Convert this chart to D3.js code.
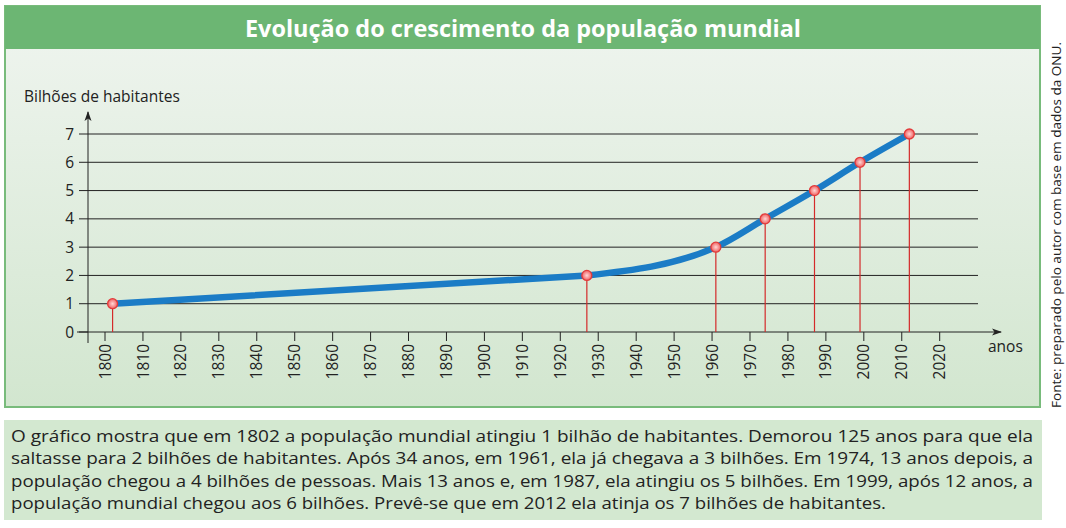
<!DOCTYPE html>
<html lang="pt">
<head>
<meta charset="utf-8">
<title>Evolução do crescimento da população mundial</title>
<script src="https://cdn.jsdelivr.net/npm/d3@7"></script>
<style>
body { margin: 0; background: #fff; }
svg { display: block; font-family: "Open Sans", "Noto Sans", sans-serif; }
</style>
</head>
<body>
<script>
// data
const years = [1802, 1927, 1961, 1974, 1987, 1999, 2012];
const billions = [1, 2, 3, 4, 5, 6, 7];
const yearTicks = d3.range(1800, 2021, 10);
const valueTicks = [0, 1, 2, 3, 4, 5, 6, 7];

const title = "Evolução do crescimento da população mundial";
const yLabel = "Bilhões de habitantes";
const xLabel = "anos";
const source = "Fonte: preparado pelo autor com base em dados da ONU.";
const textLines = [
  "O gráfico mostra que em 1802 a população mundial atingiu 1 bilhão de habitantes. Demorou 125 anos para que ela",
  "saltasse para 2 bilhões de habitantes. Após 34 anos, em 1961, ela já chegava a 3 bilhões. Em 1974, 13 anos depois, a",
  "população chegou a 4 bilhões de pessoas. Mais 13 anos e, em 1987, ela atingiu os 5 bilhões. Em 1999, após 12 anos, a",
  "população mundial chegou aos 6 bilhões. Prevê-se que em 2012 ela atinja os 7 bilhões de habitantes."
];

const W = 1066, H = 528;
const svg = d3.select("body").append("svg").attr("width", W).attr("height", H);

const defs = svg.append("defs");
const bg = defs.append("linearGradient").attr("id", "bg")
  .attr("x1", 0).attr("y1", 0).attr("x2", 0).attr("y2", 1);
bg.append("stop").attr("offset", "0%").attr("stop-color", "#f0f5f0");
bg.append("stop").attr("offset", "100%").attr("stop-color", "#d2e6cf");

const dot = defs.append("radialGradient").attr("id", "dot");
dot.append("stop").attr("offset", "0%").attr("stop-color", "#ffd6d6");
dot.append("stop").attr("offset", "100%").attr("stop-color", "#f06060");

defs.append("marker").attr("id", "arrow")
  .attr("viewBox", "0 0 10 10").attr("refX", 9).attr("refY", 5)
  .attr("markerWidth", 10).attr("markerHeight", 10)
  .attr("markerUnits", "userSpaceOnUse").attr("orient", "auto")
  .append("path").attr("d", "M0,1.5 L10,5 L0,8.5 L2.5,5 Z").attr("fill", "#222");

// chart box
svg.append("rect").attr("x", 5).attr("y", 6).attr("width", 1035).attr("height", 401)
  .attr("fill", "url(#bg)").attr("stroke", "#78bb7b").attr("stroke-width", 2);
svg.append("rect").attr("x", 5).attr("y", 6).attr("width", 1035).attr("height", 43)
  .attr("fill", "#6cb673");
svg.append("text").attr("x", 523).attr("y", 37).attr("text-anchor", "middle")
  .attr("fill", "#fff").attr("font-weight", "bold").attr("font-size", 24)
  .attr("textLength", 556).attr("lengthAdjust", "spacingAndGlyphs")
  .text(title);

// scales
const x = d3.scaleLinear().domain([1800, 2020]).range([105, 939.7]);
const y = d3.scaleLinear().domain([0, 7]).range([332, 134]);

const axisX = 88;

// grid lines
svg.append("g").selectAll("line").data(valueTicks.filter(d => d > 0)).join("line")
  .attr("x1", axisX).attr("x2", 978)
  .attr("y1", d => y(d)).attr("y2", d => y(d))
  .attr("stroke", "#222").attr("stroke-width", 1);

// y ticks and labels
const gy = svg.append("g");
gy.selectAll("line").data(valueTicks).join("line")
  .attr("x1", 79).attr("x2", axisX)
  .attr("y1", d => y(d)).attr("y2", d => y(d))
  .attr("stroke", "#222");
gy.selectAll("text").data(valueTicks).join("text")
  .attr("x", 74).attr("y", d => y(d)).attr("dy", "0.36em")
  .attr("text-anchor", "end").attr("font-size", 15.5).attr("fill", "#222")
  .text(d => d);

// x ticks and labels
const gx = svg.append("g");
gx.selectAll("line").data(yearTicks).join("line")
  .attr("x1", d => x(d)).attr("x2", d => x(d))
  .attr("y1", y(0)).attr("y2", y(0) + 9)
  .attr("stroke", "#222");
gx.selectAll("text").data(yearTicks).join("text")
  .attr("transform", d => `translate(${x(d)},344) rotate(-90)`)
  .attr("dy", "0.36em").attr("text-anchor", "end")
  .attr("font-size", 15.5).attr("fill", "#222")
  .text(d => d);

// axes with arrows
svg.append("line").attr("x1", axisX).attr("x2", axisX).attr("y1", 343).attr("y2", 112)
  .attr("stroke", "#222").attr("marker-end", "url(#arrow)");
svg.append("line").attr("x1", 77).attr("x2", 1001).attr("y1", y(0)).attr("y2", y(0))
  .attr("stroke", "#222").attr("marker-end", "url(#arrow)");

svg.append("text").attr("x", 24).attr("y", 102).attr("font-size", 15.5).attr("fill", "#222")
  .text(yLabel);
svg.append("text").attr("x", 988).attr("y", 352).attr("font-size", 15.5).attr("fill", "#222")
  .text(xLabel);

// drop lines
const pts = years.map((d, i) => [d, billions[i]]);
svg.append("g").selectAll("line").data(pts).join("line")
  .attr("x1", d => x(d[0])).attr("x2", d => x(d[0]))
  .attr("y1", d => y(d[1])).attr("y2", y(0))
  .attr("stroke", "#d42a2a").attr("stroke-width", 1.2);

// population line: straight first stretch, smooth afterwards
const straight = d3.line().x(d => x(d[0])).y(d => y(d[1]));
const smooth = d3.line().x(d => x(d[0])).y(d => y(d[1])).curve(d3.curveMonotoneX);
const lineStyle = p => p.attr("fill", "none").attr("stroke", "#1b7cc6").attr("stroke-width", 6.5)
  .attr("stroke-linecap", "round").attr("stroke-linejoin", "round");
svg.append("path").datum(pts.slice(0, 2)).attr("d", straight).call(lineStyle);
svg.append("path").datum(pts.slice(1)).attr("d", smooth).call(lineStyle);

svg.append("g").selectAll("circle").data(pts).join("circle")
  .attr("cx", d => x(d[0])).attr("cy", d => y(d[1])).attr("r", 5)
  .attr("fill", "url(#dot)").attr("stroke", "#e23b3b").attr("stroke-width", 1.3);

// source, vertical
svg.append("text").attr("transform", "translate(1056,408) rotate(-90)")
  .attr("dy", "0.36em").attr("font-size", 13.5).attr("fill", "#222")
  .attr("textLength", 366).attr("lengthAdjust", "spacingAndGlyphs")
  .text(source);

// explanatory text box
svg.append("rect").attr("x", 4).attr("y", 420).attr("width", 1038).attr("height", 100)
  .attr("fill", "#d3e8d0");
svg.append("g").selectAll("text").data(textLines).join("text")
  .attr("x", 11).attr("y", (d, i) => 442 + i * 22.3)
  .attr("font-size", 16.5).attr("fill", "#222")
  .attr("textLength", (d, i) => i < 3 ? 1022 : 875)
  .attr("lengthAdjust", "spacingAndGlyphs")
  .text(d => d);
</script>
</body>
</html>
